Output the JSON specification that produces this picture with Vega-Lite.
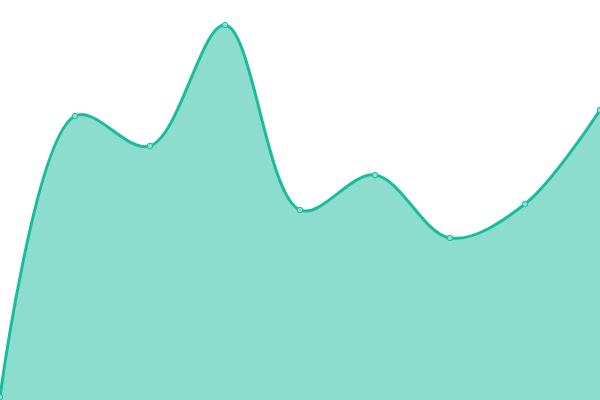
{
  "$schema": "https://vega.github.io/schema/vega-lite/v6.json",
  "width": 600,
  "height": 400,
  "padding": 0,
  "autosize": "none",
  "background": "white",
  "config": {"view": {"stroke": null}},
  "data": {"values": [
    {"i": 0, "v": 3},
    {"i": 1, "v": 284},
    {"i": 2, "v": 254},
    {"i": 3, "v": 375},
    {"i": 4, "v": 190},
    {"i": 5, "v": 225},
    {"i": 6, "v": 162},
    {"i": 7, "v": 196},
    {"i": 8, "v": 290}
  ]},
  "encoding": {
    "x": {"field": "i", "type": "quantitative", "scale": {"domain": [0, 8], "nice": false, "zero": false}, "axis": null},
    "y": {"field": "v", "type": "quantitative", "scale": {"domain": [0, 400], "nice": false}, "axis": null}
  },
  "layer": [
    {"mark": {"type": "area", "interpolate": "catmull-rom", "color": "#1abc9c", "fillOpacity": 0.5, "clip": true}},
    {"mark": {"type": "line", "interpolate": "catmull-rom", "color": "#1abc9c", "strokeWidth": 3, "clip": true}},
    {"mark": {"type": "point", "shape": "circle", "size": 30, "filled": true, "fill": "#8ddfcf", "stroke": "#1abc9c", "strokeWidth": 1, "opacity": 1}}
  ]
}
